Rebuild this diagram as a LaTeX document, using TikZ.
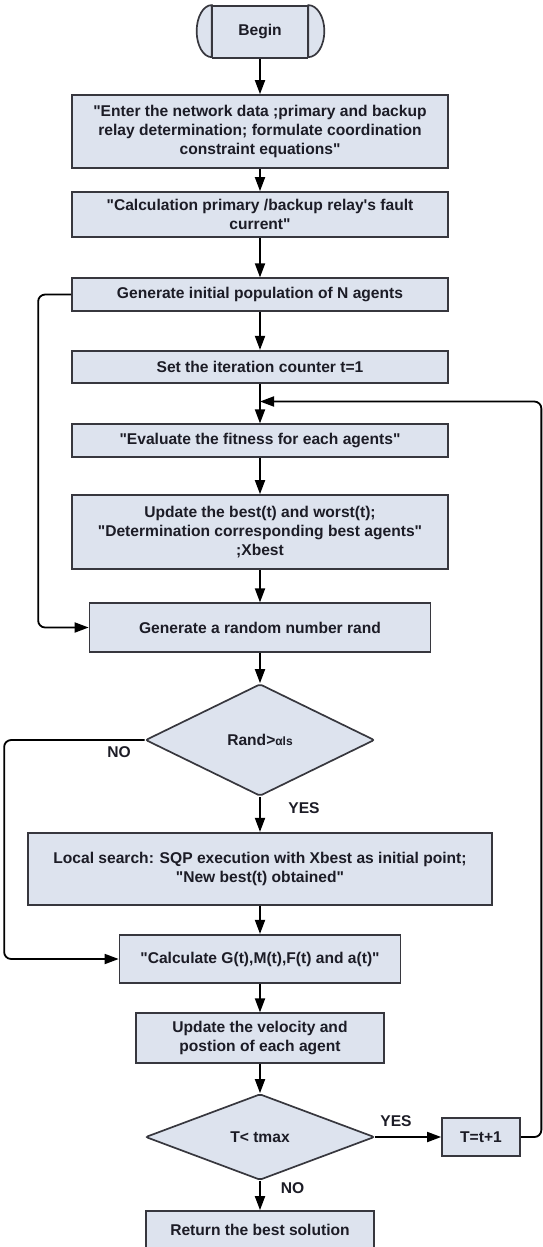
\documentclass[tikz,border=0pt]{standalone}
\usepackage{fontspec}
% keep plain straight quotes: no TeX input mapping
\setmainfont{Liberation Sans}[Ligatures=TeXOff]
\usetikzlibrary{shapes.geometric,arrows.meta}
\definecolor{boxfill}{RGB}{221,227,238}
\definecolor{boxline}{RGB}{55,55,62}
\definecolor{ink}{RGB}{28,28,38}
\begin{document}
\begin{tikzpicture}[x=1pt,y=-1pt,
  font=\fontsize{15.6}{19}\selectfont\bfseries,
  proc/.style 2 args={draw=boxline, line width=1.7pt, fill=boxfill, text=ink,
    align=center, inner sep=0pt, minimum width=#1pt, minimum height=#2pt},
  decide/.style 2 args={diamond, draw=boxline, line width=1.7pt, fill=boxfill,
    text=ink, inner sep=0pt, rounded corners=2pt,
    minimum width=#1pt, minimum height=#2pt},
  termcap/.style={draw=boxline, line width=1.7pt, fill=boxfill},
  arr/.style={draw=black, line width=1.8pt,
    -{Triangle[length=14pt,width=10pt]}},
  loop/.style={arr, rounded corners=7pt},
  lbl/.style={text=ink, inner sep=0pt}]

\useasboundingbox (0,0) rectangle (543,1247);

% terminator
\node[proc={95}{52}] (begin) at (260,32) {Begin};
\filldraw[termcap] (begin.north west) arc[start angle=90, end angle=270, x radius=15pt, y radius=26pt] -- cycle;
\filldraw[termcap] (begin.north east) arc[start angle=90, end angle=-90, x radius=16pt, y radius=26pt] -- cycle;

% process steps
\node[proc={376}{73}] (b1) at (260,131.5)
  {"Enter the network data ;primary and backup\\relay determination; formulate coordination\\constraint equations"};
\node[proc={376}{45}] (b2) at (260,214.5)
  {"Calculation primary /backup relay's fault\\current"};
\node[proc={376}{32.5}] (b3) at (260,294.5) {Generate initial population of N agents};
\node[proc={376}{32.5}] (b4) at (260,367) {Set the iteration counter t=1};
\node[proc={376}{32.5}] (b5) at (260,440.5) {"Evaluate the fitness for each agents"};
\node[proc={376}{74}] (b6) at (260,532)
  {Update the best(t) and worst(t);\\"Determination corresponding best agents"\\;Xbest};
\node[proc={341}{48.5}] (b7) at (260,627.5) {Generate a random number rand};
\node[decide={229}{112}] (d1) at (260,740) {Rand>{\fontsize{12}{12}\selectfont αls}};
\node[proc={464}{72.5}] (b8) at (260,869)
  {Local search: SQP execution with Xbest as initial point;\\"New best(t) obtained"};
\node[proc={281}{48.5}] (b9) at (260,959) {"Calculate G(t),M(t),F(t) and a(t)"};
\node[proc={248}{49.5}] (b10) at (260,1038) {Update the velocity and\\postion of each agent};
\node[decide={229}{86}] (d2) at (260,1137) {T< tmax};
\node[proc={78}{38.5}] (tb) at (481,1137) {T=t+1};
\node[proc={228}{37}] (ret) at (260,1229.5) {Return the best solution};

\coordinate (join) at (260,401.5);

% main flow
\draw[arr] (begin) -- (b1);
\draw[arr] (b1) -- (b2);
\draw[arr] (b2) -- (b3);
\draw[arr] (b3) -- (b4);
\draw[arr] (b4) -- (b5);
\draw[arr] (b5) -- (b6);
\draw[arr] (b6) -- (b7);
\draw[arr] (b7) -- (d1);
\draw[arr] (d1) -- (b8);
\draw[arr] (b8) -- (b9);
\draw[arr] (b9) -- (b10);
\draw[arr] (b10) -- (d2);
\draw[arr] (d2) -- (tb);
\draw[arr] (d2) -- (ret);

% side branches
\draw[loop] (b3.west) -- ++(-33,0) |- (b7.west);
\draw[loop] (d1.west) -- ++(-140.5,0) |- (b9.west);
\draw[loop] (tb.east) -- ++(20.5,0) |- (join);

% branch labels
\node[lbl] (no1) at (119,752) {NO};
\node[lbl] (yes1) at (304,808) {YES};
\node[lbl] (yes2) at (396,1121) {YES};
\node[lbl] (no2) at (292.5,1188) {NO};
\end{tikzpicture}
\end{document}
